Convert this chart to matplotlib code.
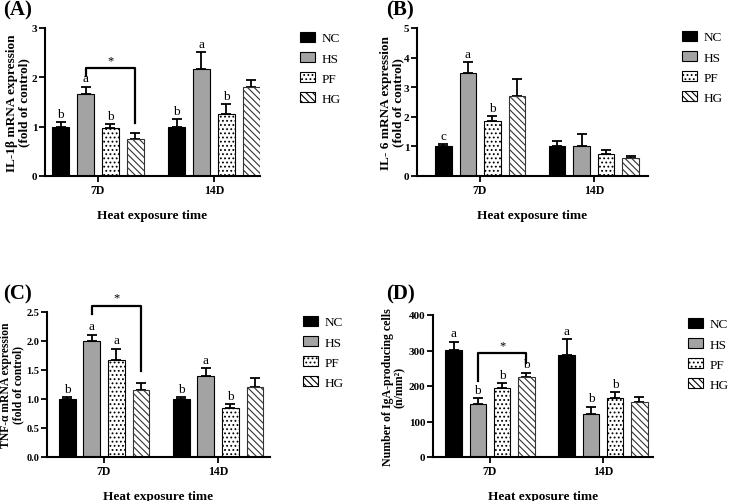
import numpy as np
import matplotlib
matplotlib.use("Agg")
import matplotlib.pyplot as plt
from matplotlib.patches import Patch

plt.rcParams['font.family'] = ['Liberation Serif', 'DejaVu Serif']
plt.rcParams['hatch.linewidth'] = 0.8

groups = ['NC', 'HS', 'PF', 'HG']
times = ['7D', '14D']

# means [7D, 14D] and SEM for each group, per panel
il1b_mean = {'NC': [1.00, 1.00], 'HS': [1.67, 2.17], 'PF': [0.98, 1.26], 'HG': [0.74, 1.80]}
il1b_err = {'NC': [0.10, 0.15], 'HS': [0.14, 0.34], 'PF': [0.07, 0.19], 'HG': [0.14, 0.14]}
il1b_letters = {'NC': ['b', 'b'], 'HS': ['a', 'a'], 'PF': ['b', 'b'], 'HG': ['', '']}

il6_mean = {'NC': [1.00, 1.00], 'HS': [3.47, 1.03], 'PF': [1.86, 0.74], 'HG': [2.70, 0.61]}
il6_err = {'NC': [0.08, 0.19], 'HS': [0.37, 0.39], 'PF': [0.17, 0.13], 'HG': [0.57, 0.08]}
il6_letters = {'NC': ['c', ''], 'HS': ['a', ''], 'PF': ['b', ''], 'HG': ['', '']}

tnf_mean = {'NC': [1.00, 1.00], 'HS': [2.00, 1.40], 'PF': [1.68, 0.85], 'HG': [1.15, 1.21]}
tnf_err = {'NC': [0.03, 0.03], 'HS': [0.11, 0.14], 'PF': [0.19, 0.06], 'HG': [0.13, 0.16]}
tnf_letters = {'NC': ['b', 'b'], 'HS': ['a', 'a'], 'PF': ['a', 'b'], 'HG': ['', '']}

iga_mean = {'NC': [302, 288], 'HS': [150, 120], 'PF': [195, 165], 'HG': [226, 155]}
iga_err = {'NC': [23, 45], 'HS': [15, 22], 'PF': [13, 17], 'HG': [12, 13]}
iga_letters = {'NC': ['a', 'a'], 'HS': ['b', 'b'], 'PF': ['b', 'b'], 'HG': ['b', '']}

colors = {'NC': 'black', 'HS': '#a3a3a3', 'PF': 'white', 'HG': 'white'}
hatches = {'NC': None, 'HS': None, 'PF': '....', 'HG': '\\\\\\\\\\'}

W, H = 729, 502
fig = plt.figure(figsize=(W / 100, H / 100), dpi=100)


def make_axes(left, right, top, bottom):
    return fig.add_axes([left / W, 1 - bottom / H, (right - left) / W, (bottom - top) / H])


def panel(ax, means, errs, letters, ymax, ystep, ylabel, xlim, tag, tagpos, legpos,
          bracket=None, fmt='{:g}', ylab_fs=9.5, ylab_x=-0.12, ytick_fs=8):
    step = 0.215
    width = 0.145
    x = np.arange(len(times))
    for i, g in enumerate(groups):
        xs = x + (i - 1.5) * step
        m = np.array(means[g])
        e = np.array(errs[g])
        ax.errorbar(xs, m, yerr=[np.zeros_like(e), e], fmt='none', ecolor='black',
                    elinewidth=1.3, capsize=3.5, capthick=1.3, zorder=1)
        ax.bar(xs, m, width=width, color=colors[g], hatch=hatches[g],
               edgecolor='black' if g != 'HG' else '#333333', linewidth=0.8, zorder=2)
        for j in range(len(times)):
            if letters[g][j]:
                ax.text(xs[j], m[j] + e[j] + ymax * 0.015, letters[g][j], ha='center',
                        va='bottom', fontsize=9.5)
    if bracket is not None:
        x1 = x[0] + (bracket[0] - 1.5) * step
        x2 = x[0] + (bracket[1] - 1.5) * step
        top, yl, yr = bracket[2], bracket[3], bracket[4]
        ax.plot([x1, x1, x2, x2], [yl, top, top, yr], color='black', lw=1.6, zorder=3,
                clip_on=False)
        ax.text((x1 + x2) / 2, top + ymax * 0.015, '*', ha='center', va='bottom', fontsize=9)
    ax.set_ylim(0, ymax)
    ax.set_xlim(*xlim)
    ticks = np.arange(0, ymax + ystep / 2, ystep)
    ax.set_yticks(ticks)
    ax.set_yticklabels([fmt.format(t) for t in ticks], fontweight='bold', fontsize=ytick_fs)
    ax.set_xticks(x)
    ax.set_xticklabels(times, fontweight='bold', fontsize=8.5)
    ax.set_ylabel(ylabel, fontweight='bold', fontsize=ylab_fs, linespacing=1.0,
                  va='center', ha='center')
    ax.yaxis.set_label_coords(ylab_x, 0.5)
    ax.set_xlabel('Heat exposure time', fontweight='bold', fontsize=9.5, labelpad=9)
    for s in ['top', 'right']:
        ax.spines[s].set_visible(False)
    for s in ['left', 'bottom']:
        ax.spines[s].set_linewidth(1.5)
    ax.tick_params(width=1.3, length=4, pad=2)
    ax.tick_params(axis='y', pad=1.5)
    fig.text(tagpos[0] / W, 1 - tagpos[1] / H, tag, fontsize=15, fontweight='bold',
             ha='left', va='top')
    handles = [Patch(facecolor=colors[g], hatch=hatches[g], edgecolor='black', linewidth=0.8,
                     label=g) for g in groups]
    fig.legend(handles=handles, loc='upper left', bbox_to_anchor=(legpos[0] / W, 1 - legpos[1] / H),
               frameon=False, fontsize=9.5, handlelength=1.1, handleheight=0.75,
               labelspacing=0.58, handletextpad=0.5, borderaxespad=0, borderpad=0)


axA = make_axes(45, 260, 29, 177)
panel(axA, il1b_mean, il1b_err, il1b_letters, 3, 1,
      'IL-1β mRNA expression\n(fold of control)', (-0.457, 1.397), '(A)', (3, 0), (300, 33),
      bracket=(1, 3, 2.18, 2.02, 1.07), ylab_x=-0.125)

axB = make_axes(417, 648, 29, 177)
panel(axB, il6_mean, il6_err, il6_letters, 5, 1,
      'IL- 6 mRNA expression\n(fold of control)', (-0.553, 1.474), '(B)', (386, 0), (682, 32),
      ylab_x=-0.108)

axC = make_axes(47, 270, 313, 458)
panel(axC, tnf_mean, tnf_err, tnf_letters, 2.5, 0.5,
      'TNF-α mRNA expression\n(fold of control)', (-0.5, 1.456), '(C)', (3, 284), (303, 317),
      bracket=(1, 3, 2.61, 2.46, 1.48), fmt='{:.1f}', ylab_fs=8.4, ylab_x=-0.155,
      ytick_fs=7.5)

axD = make_axes(433, 653, 316, 458)
panel(axD, iga_mean, iga_err, iga_letters, 400, 100,
      'Number of IgA-producing cells\n(n/mm²)', (-0.504, 1.442), '(D)', (386, 284), (688, 319),
      bracket=(1, 3, 293, 214, 265), ylab_fs=8.6, ylab_x=-0.178)

fig.savefig('out.png', dpi=100)
